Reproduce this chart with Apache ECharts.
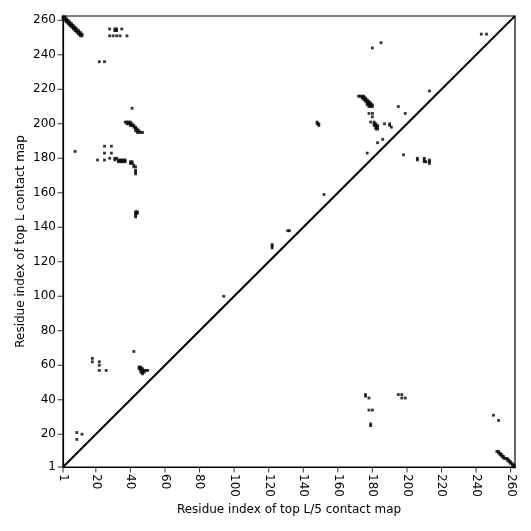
<!DOCTYPE html>
<html>
<head>
<meta charset="utf-8">
<script src="https://cdn.jsdelivr.net/npm/echarts@6/dist/echarts.min.js"></script>
<style>
  html, body { margin: 0; padding: 0; background: #fff; }
  #chart { width: 531px; height: 531px; }
</style>
</head>
<body>
<div id="chart"></div>
<script>
// residue range and tick marks
const seqStart = 1
const seqEnd = 262.5
const tickValues = [1, 20, 40, 60, 80, 100, 120, 140, 160, 180, 200, 220, 240, 260]

// top L contacts (upper-left triangle)
const topLContacts = [
  [1, 262], [2, 262], [1, 261], [2, 261], [3, 261], [2, 260], [3, 260], [4, 260],
  [3, 259], [4, 259], [5, 259], [4, 258], [5, 258], [6, 258], [5, 257], [6, 257],
  [7, 257], [6, 256], [7, 256], [8, 256], [7, 255], [8, 255], [9, 255], [8, 254],
  [9, 254], [10, 254], [9, 253], [10, 253], [11, 253], [10, 252], [11, 252], [12, 252],
  [11, 251], [12, 251],
  [28, 255], [31, 255], [32, 255], [35, 255], [31, 254], [32, 254],
  [28, 251], [30, 251], [32, 251], [34, 251], [38, 251],
  [22, 236], [25, 236],
  [37, 201], [38, 201], [39, 201], [40, 201], [38, 200], [39, 200], [40, 200], [41, 200],
  [40, 199], [41, 199], [42, 199], [42, 198], [43, 198], [43, 197], [44, 197], [43, 196],
  [44, 196], [45, 196], [44, 195], [45, 195], [46, 195], [47, 195], [41, 209],
  [25, 187], [29, 187], [25, 183], [29, 183], [21, 179], [25, 179], [28, 180], [8, 184],
  [31, 180], [32, 180], [31, 179], [33, 179], [34, 179], [35, 179], [36, 179], [37, 179],
  [33, 178], [34, 178], [35, 178], [36, 178], [37, 178], [40, 178], [41, 178], [40, 177],
  [41, 177], [42, 176], [42, 175], [43, 175], [43, 173], [43, 172], [43, 171],
  [43, 149], [44, 149], [43, 148], [44, 148], [43, 147], [43, 146],
  [172, 216], [173, 216], [174, 216], [175, 216], [174, 215], [175, 215], [176, 215],
  [175, 214], [176, 214], [177, 214], [176, 213], [177, 213], [178, 213], [177, 212],
  [178, 212], [179, 212], [177, 211], [178, 211], [179, 211], [180, 211], [178, 210],
  [179, 210], [180, 210], [178, 206], [180, 206], [180, 204], [179, 201],
  [181, 201], [181, 200], [182, 200], [181, 199], [182, 199], [183, 199], [182, 198],
  [183, 198], [182, 197], [183, 197],
  [187, 200], [190, 200], [190, 199], [191, 198], [186, 191], [183, 189], [177, 183],
  [195, 210], [199, 206], [198, 182], [213, 219],
  [206, 180], [206, 179], [210, 180], [210, 179], [210, 178], [211, 178], [213, 179],
  [213, 178], [213, 177],
  [180, 244], [185, 247], [243, 252], [246, 252],
  [148, 201], [148, 200], [149, 200], [149, 199],
  [152, 159], [131, 138], [132, 138], [122, 128], [122, 129], [122, 130], [94, 100],
  [42, 68], [18, 64], [18, 62], [22, 62], [22, 60], [22, 57], [26, 57],
  [45, 59], [46, 59], [45, 58], [46, 58], [47, 58], [46, 57], [47, 57], [48, 57],
  [49, 57], [50, 57], [46, 56], [47, 56], [48, 56], [47, 55],
  [9, 21], [9, 17], [12, 20]
]

// top L/5 contacts (lower-right triangle)
const topL5Contacts = [
  [176, 43], [176, 42], [178, 41], [195, 43], [197, 43], [197, 41], [199, 41],
  [178, 34], [180, 34], [179, 26], [179, 25], [250, 31], [253, 28],
  [252, 10], [253, 10], [253, 9], [254, 9], [254, 8], [255, 8], [255, 7], [256, 7],
  [256, 6], [257, 6], [258, 6], [258, 5], [259, 5], [259, 4], [260, 4], [260, 3],
  [261, 3], [261, 2], [262, 2], [262, 1]
]

const diagonal = [[seqStart, seqStart], [seqEnd, seqEnd]]

let myChart = echarts.init(document.getElementById('chart'))

let axisCommon = {
  type: 'value',
  min: seqStart,
  max: seqEnd,
  nameLocation: 'middle',
  nameMoveOverlap: false,
  nameTextStyle: { color: '#000', fontSize: 12, fontFamily: 'DejaVu Sans' },
  axisLine: { show: true, onZero: false, lineStyle: { color: '#000', width: 1.2 } },
  // custom tick positions are drawn by the tick series below
  axisTick: { show: false },
  splitLine: { show: false }
}

let tickSeries = function (data, size, offset) {
  return {
    type: 'scatter',
    data: data,
    symbol: 'rect',
    symbolSize: size,
    symbolOffset: offset,
    clip: false,
    silent: true,
    itemStyle: { color: '#000' },
    z: 5
  }
}

let options = {
  animation: false,
  backgroundColor: '#fff',
  grid: {
    left: 63,
    right: 16,
    top: 16,
    bottom: 64,
    show: true,
    borderColor: '#000',
    borderWidth: 1.2
  },
  xAxis: Object.assign({}, axisCommon, {
    name: 'Residue index of top L/5 contact map',
    nameGap: 37,
    axisLabel: {
      customValues: tickValues,
      rotate: -90,
      color: '#000',
      fontSize: 12,
      fontFamily: 'DejaVu Sans',
      margin: 7
    }
  }),
  yAxis: Object.assign({}, axisCommon, {
    name: 'Residue index of top L contact map',
    nameGap: 36,
    axisLabel: {
      customValues: tickValues,
      color: '#000',
      fontSize: 12,
      fontFamily: 'DejaVu Sans',
      margin: 7
    }
  }),
  series: [
    {
      type: 'line',
      data: diagonal,
      symbol: 'none',
      lineStyle: { color: '#000', width: 2 },
      silent: true
    },
    {
      name: 'top L',
      type: 'scatter',
      symbol: 'rect',
      symbolSize: 2.8,
      itemStyle: { color: '#000' },
      data: topLContacts
    },
    {
      name: 'top L/5',
      type: 'scatter',
      symbol: 'rect',
      symbolSize: 2.8,
      itemStyle: { color: '#000' },
      data: topL5Contacts
    },
    tickSeries(tickValues.map(v => [v, seqStart]), [1, 5], [0, 3]),
    tickSeries(tickValues.map(v => [seqStart, v]), [5, 1], [-3, 0])
  ]
}

myChart.setOption(options)
</script>
</body>
</html>
